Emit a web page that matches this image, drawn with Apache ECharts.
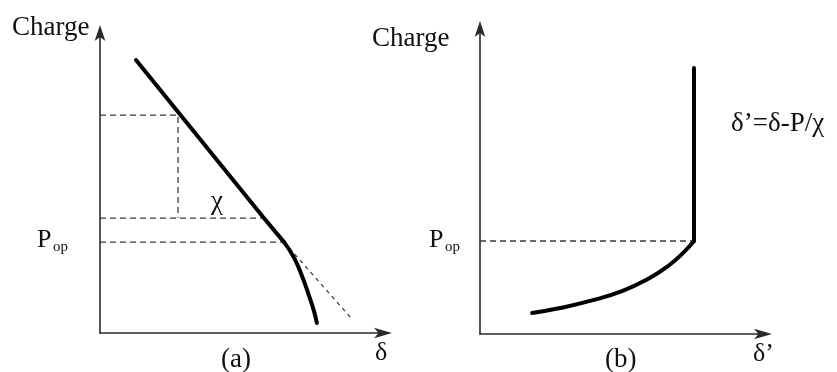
<!DOCTYPE html>
<html>
<head>
<meta charset="utf-8">
<script src="https://cdn.jsdelivr.net/npm/echarts@6/dist/echarts.min.js"></script>
<style>html,body{margin:0;padding:0;background:#fff}#c{width:837px;height:372px}</style>
</head>
<body>
<div id="c"></div>
<script>
// ---- Panel (a): Charge vs δ (normalised units 0..10) ----
const aLinear = [[1.25, 8.98], [5.69, 3.78], [6.39, 2.99]];
const aCurve = [[6.39, 2.99], [6.74, 2.47], [7.01, 1.88], [7.26, 1.22], [7.43, 0.72], [7.53, 0.33]];
const aTangent = [[6.39, 2.99], [8.72, 0.49]];
const aChiUpperY = 7.17, aChiLowerY = 3.78, aChiX = 2.71, aChiLowerEndX = 5.63;
const aPopY = 2.99, aPopEndX = 6.60;
// ---- Panel (b): Charge vs δ' ----
const bVertical = [[7.43, 8.61], [7.43, 3.01]];
const bCurve = [[7.43, 3.01], [7.08, 2.65], [6.53, 2.20], [5.83, 1.78], [4.93, 1.39], [3.82, 1.07], [2.78, 0.84], [1.81, 0.68]];
const bPopY = 3.01, bPopEndX = 7.43;

const FONT = '"Liberation Serif", "DejaVu Serif", serif';
const ink = '#111';
const axisCol = '#2a2a2a';

function axisCfg(gridIndex, isX) {
  return {
    type: 'value', gridIndex, min: 0, max: 10,
    axisLine: { show: true, onZero: false, symbol: ['none', 'arrow'], symbolSize: isX ? [8, 18] : [8, 16], symbolOffset: [0, 4],
      lineStyle: { color: axisCol, width: 1.6 } },
    axisTick: { show: false }, axisLabel: { show: false }, splitLine: { show: false }
  };
}
const solid = { color: '#000', width: 4, cap: 'round', join: 'round' };
const dashed = { color: '#3a3a3a', width: 1.3, type: [6, 4] };
function line(xi, data, style, smooth) {
  return { type: 'line', xAxisIndex: xi, yAxisIndex: xi, data, showSymbol: false, symbol: 'none',
    smooth: smooth || false, lineStyle: style, silent: true, z: style.width > 2 ? 5 : 3 };
}

const option = {
  animation: false,
  grid: [
    { left: 100, top: 29, width: 288, height: 304 },
    { left: 480, top: 25, width: 288, height: 309 }
  ],
  xAxis: [axisCfg(0, true), axisCfg(1, true)],
  yAxis: [axisCfg(0, false), axisCfg(1, false)],
  series: [
    line(0, [[0, aChiUpperY], [aChiX, aChiUpperY], [aChiX, aChiLowerY]], dashed),
    line(0, [[0, aChiLowerY], [aChiLowerEndX, aChiLowerY]], dashed),
    line(0, [[0, aPopY], [aPopEndX, aPopY]], dashed),
    line(0, aTangent, { color: '#333', width: 1.2, type: [4, 4] }),
    line(0, aLinear, solid),
    line(0, aCurve, solid, 0.5),
    line(1, [[0, bPopY], [bPopEndX, bPopY]], dashed),
    line(1, bVertical, solid),
    line(1, bCurve, solid, 0.5)
  ],
  graphic: [
    { type: 'text', left: 12, top: 14, style: { text: 'Charge', font: '27px ' + FONT, fill: ink } },
    { type: 'text', left: 372, top: 25, style: { text: 'Charge', font: '27px ' + FONT, fill: ink } },
    { type: 'text', left: 37, top: 227, style: { text: 'P', font: '26px ' + FONT, fill: ink } },
    { type: 'text', left: 53, top: 240, style: { text: 'op', font: '15px ' + FONT, fill: ink } },
    { type: 'text', left: 429, top: 227, style: { text: 'P', font: '26px ' + FONT, fill: ink } },
    { type: 'text', left: 445, top: 240, style: { text: 'op', font: '15px ' + FONT, fill: ink } },
    { type: 'text', left: 211, top: 188, style: { text: 'χ', font: '27px ' + FONT, fill: ink } },
    { type: 'text', left: 221, top: 346, style: { text: '(a)', font: '27px ' + FONT, fill: ink } },
    { type: 'text', left: 375, top: 340, style: { text: 'δ', font: '26px ' + FONT, fill: ink } },
    { type: 'text', left: 605, top: 346, style: { text: '(b)', font: '27px ' + FONT, fill: ink } },
    { type: 'text', left: 753, top: 341, style: { text: 'δ’', font: '26px ' + FONT, fill: ink } },
    { type: 'text', left: 731, top: 110, style: { text: 'δ’=δ-P/χ', font: '27px ' + FONT, fill: ink } }
  ]
};
const chart = echarts.init(document.getElementById('c'), null, { renderer: 'canvas' });
chart.setOption(option);
</script>
</body>
</html>
